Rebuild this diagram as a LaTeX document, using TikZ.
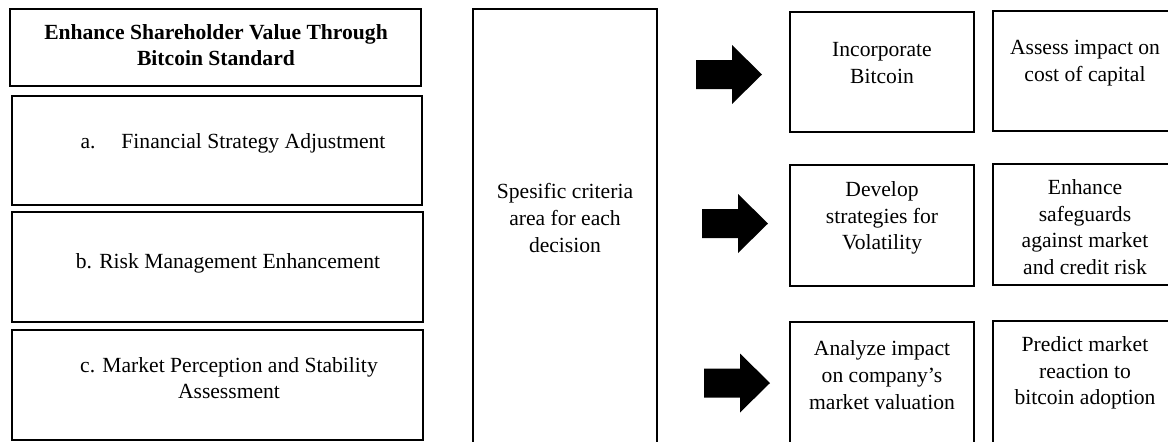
\documentclass[tikz,border=0pt]{standalone}
\usepackage{fontspec}
\setmainfont{Liberation Serif}
\usetikzlibrary{positioning}

\tikzset{
  box/.style={draw, line width=0.9pt, inner sep=0pt},
  txt/.style={align=center, inner sep=0pt, font=\fontsize{10.8}{13.3}\selectfont},
}

\begin{document}
\begin{tikzpicture}[x=0.5pt, y=-0.5pt]

    \useasboundingbox[fill=white] (0,0) rectangle (1168,441);
    \clip (0,0) rectangle (1168,441);

    % left column
    \node[box, minimum width=205.5pt, minimum height=38.5pt] (head) at (215.5,47.5) {};
    \node[txt, font=\fontsize{10.8}{13.3}\selectfont\bfseries] (headtxt) at (216,45) {Enhance Shareholder Value Through\\Bitcoin Standard};

    \node[box, minimum width=205pt, minimum height=54.5pt] (fin) at (217,150.5) {};
    \node[txt] (fintxt) at (233,143) {a.\hspace{1.2em}Financial Strategy Adjustment};

    \node[box, minimum width=205.5pt, minimum height=55pt] (risk) at (217.5,267) {};
    \node[txt] (risktxt) at (228,263) {b. Risk Management Enhancement};

    \node[box, minimum width=205.5pt, minimum height=55pt] (mkt) at (217.5,385) {};
    \node[txt] (mkttxt) at (229,378) {c. Market Perception and Stability\\Assessment};

    % middle column
    \node[box, line width=0.8pt, minimum width=92pt, minimum height=231pt] (crit) at (565,240) {};
    \node[txt] (crittxt) at (565,218) {Spesific criteria\\area for each\\decision};

    % block arrows
    \foreach \ax/\ay in {696/74.5, 702/223.5, 704/383}
    \fill (\ax,\ay) ++(0,-14.5) -- ++(36,0) -- ++(0,-15) -- ++(30,29.5)
        -- ++(-30,29.5) -- ++(0,-15) -- ++(-36,0) -- cycle;

    % right columns
    \node[box, minimum width=92pt, minimum height=60pt] (incorp) at (882,72) {};
    \node[txt] (incorptxt) at (882,63) {Incorporate\\Bitcoin};
    \node[box, minimum width=92pt, minimum height=60pt] (cost) at (1085,71) {};
    \node[txt] (costtxt) at (1085,63) {Assess impact on\\cost of capital};

    \node[box, minimum width=92pt, minimum height=60.5pt] (vol) at (882,225.5) {};
    \node[txt] (voltxt) at (882,218) {Develop\\strategies for\\Volatility};
    \node[box, minimum width=92pt, minimum height=60.5pt] (safe) at (1085,224.5) {};
    \node[txt] (safetxt) at (1085,227) {Enhance\\safeguards\\against market\\and credit risk};

    \node[box, minimum width=92pt, minimum height=62pt] (val) at (882,384) {};
    \node[txt] (valtxt) at (882,375) {Analyze impact\\on company's\\market valuation};
    \node[box, minimum width=92pt, minimum height=62pt] (pred) at (1085,383) {};
    \node[txt] (predtxt) at (1085,373) {Predict market\\reaction to\\bitcoin adoption};

\end{tikzpicture}
\end{document}
